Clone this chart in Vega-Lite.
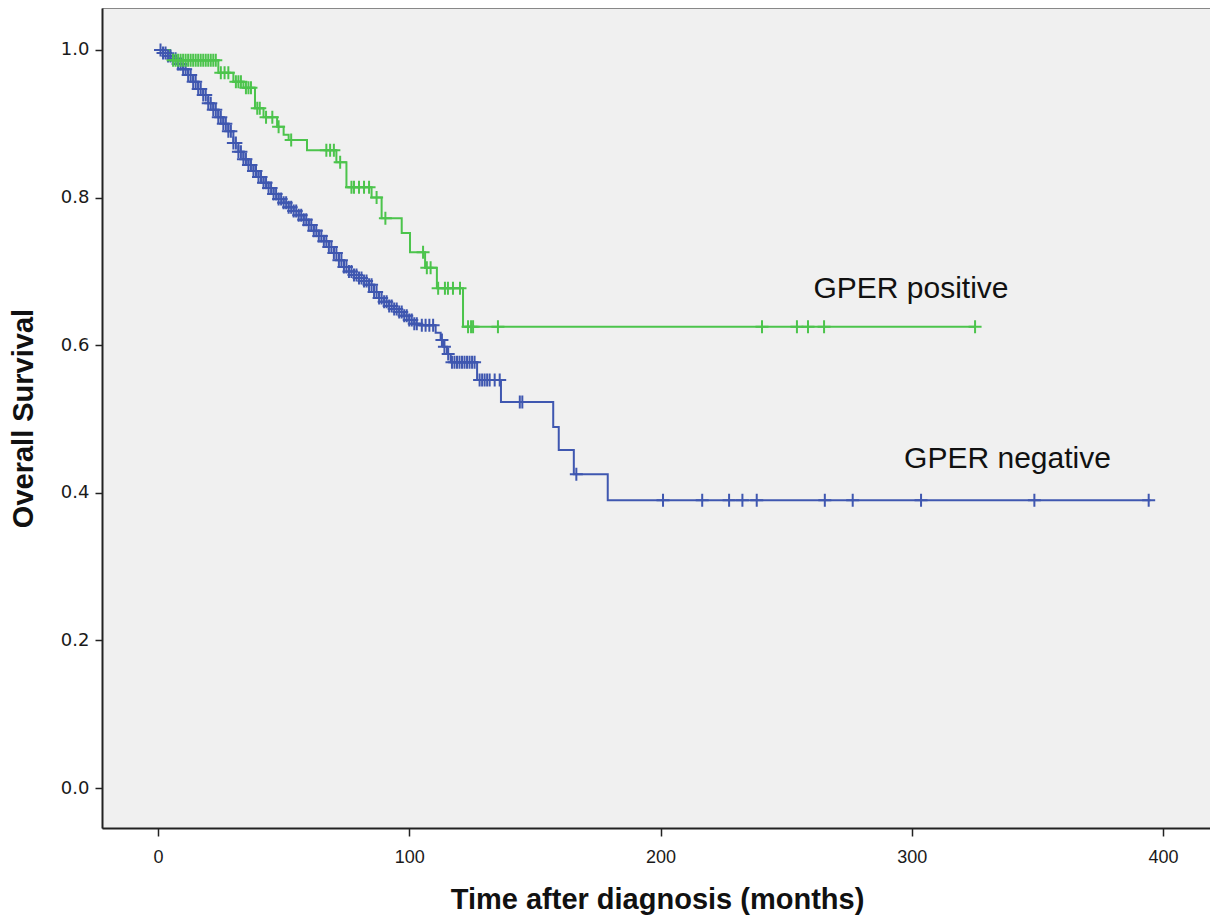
{
  "$schema": "https://vega.github.io/schema/vega-lite/v6.json",
  "width": 1110,
  "height": 820,
  "autosize": {"type": "none"},
  "padding": {"left": 102, "top": 8, "right": 0, "bottom": 91},
  "background": "white",
  "config": {"view": {"fill": "#f0f0f0", "stroke": "#888888", "strokeWidth": 1}},
  "datasets": {
    "steps": [
      {"g":"negative","t":0,"s":1.000},{"g":"negative","t":2,"s":0.996},{"g":"negative","t":4,"s":0.992},{"g":"negative","t":6,"s":0.988},
      {"g":"negative","t":8,"s":0.981},{"g":"negative","t":10,"s":0.974},{"g":"negative","t":12,"s":0.966},{"g":"negative","t":14,"s":0.957},
      {"g":"negative","t":16,"s":0.947},{"g":"negative","t":18,"s":0.939},{"g":"negative","t":20,"s":0.928},{"g":"negative","t":22,"s":0.919},
      {"g":"negative","t":24,"s":0.909},{"g":"negative","t":26,"s":0.900},{"g":"negative","t":28,"s":0.890},{"g":"negative","t":30,"s":0.874},
      {"g":"negative","t":32,"s":0.862},{"g":"negative","t":34,"s":0.852},{"g":"negative","t":36,"s":0.844},{"g":"negative","t":38,"s":0.836},
      {"g":"negative","t":40,"s":0.828},{"g":"negative","t":42,"s":0.820},{"g":"negative","t":44,"s":0.813},{"g":"negative","t":46,"s":0.805},
      {"g":"negative","t":48,"s":0.798},{"g":"negative","t":50,"s":0.793},{"g":"negative","t":52,"s":0.787},{"g":"negative","t":54,"s":0.782},
      {"g":"negative","t":56,"s":0.776},{"g":"negative","t":58,"s":0.770},{"g":"negative","t":60,"s":0.763},{"g":"negative","t":62,"s":0.755},
      {"g":"negative","t":64,"s":0.748},{"g":"negative","t":66,"s":0.741},{"g":"negative","t":68,"s":0.733},{"g":"negative","t":70,"s":0.725},
      {"g":"negative","t":72,"s":0.715},{"g":"negative","t":74,"s":0.706},{"g":"negative","t":76,"s":0.700},{"g":"negative","t":78,"s":0.695},
      {"g":"negative","t":80,"s":0.691},{"g":"negative","t":82,"s":0.687},{"g":"negative","t":84,"s":0.682},{"g":"negative","t":86,"s":0.672},
      {"g":"negative","t":88,"s":0.664},{"g":"negative","t":90,"s":0.659},{"g":"negative","t":92,"s":0.653},{"g":"negative","t":94,"s":0.649},
      {"g":"negative","t":96,"s":0.645},{"g":"negative","t":98,"s":0.640},{"g":"negative","t":100,"s":0.634},{"g":"negative","t":102,"s":0.629},
      {"g":"negative","t":104,"s":0.627},{"g":"negative","t":110.5,"s":0.617},{"g":"negative","t":112.5,"s":0.607},{"g":"negative","t":113.5,"s":0.598},
      {"g":"negative","t":115,"s":0.588},{"g":"negative","t":116.5,"s":0.577},{"g":"negative","t":127,"s":0.553},{"g":"negative","t":136.5,"s":0.523},
      {"g":"negative","t":157.3,"s":0.489},{"g":"negative","t":159.5,"s":0.458},{"g":"negative","t":165.5,"s":0.425},{"g":"negative","t":179,"s":0.390},
      {"g":"negative","t":395,"s":0.390},
      {"g":"positive","t":0,"s":1.000},{"g":"positive","t":4.8,"s":0.986},{"g":"positive","t":24,"s":0.969},{"g":"positive","t":30,"s":0.957},
      {"g":"positive","t":34,"s":0.949},{"g":"positive","t":38.6,"s":0.921},{"g":"positive","t":42,"s":0.909},{"g":"positive","t":47.4,"s":0.896},
      {"g":"positive","t":50,"s":0.885},{"g":"positive","t":52,"s":0.878},{"g":"positive","t":59.3,"s":0.864},{"g":"positive","t":71,"s":0.848},
      {"g":"positive","t":75,"s":0.814},{"g":"positive","t":85,"s":0.800},{"g":"positive","t":89,"s":0.772},{"g":"positive","t":97,"s":0.752},
      {"g":"positive","t":100.3,"s":0.726},{"g":"positive","t":106.3,"s":0.705},{"g":"positive","t":111,"s":0.677},{"g":"positive","t":121.4,"s":0.625},
      {"g":"positive","t":325.2,"s":0.625}
    ],
    "censor": [
      {"g":"negative","t":1,"s":1.000},{"g":"negative","t":2,"s":0.996},{"g":"negative","t":3,"s":0.996},{"g":"negative","t":4,"s":0.992},{"g":"negative","t":5,"s":0.992},
      {"g":"negative","t":6,"s":0.988},{"g":"negative","t":7,"s":0.988},{"g":"negative","t":8,"s":0.981},{"g":"negative","t":9,"s":0.981},
      {"g":"negative","t":10,"s":0.974},{"g":"negative","t":11,"s":0.974},{"g":"negative","t":12,"s":0.966},{"g":"negative","t":13,"s":0.966},
      {"g":"negative","t":14,"s":0.957},{"g":"negative","t":15,"s":0.957},{"g":"negative","t":16,"s":0.947},{"g":"negative","t":17,"s":0.947},
      {"g":"negative","t":18,"s":0.939},{"g":"negative","t":19,"s":0.939},{"g":"negative","t":20,"s":0.928},{"g":"negative","t":21,"s":0.928},
      {"g":"negative","t":22,"s":0.919},{"g":"negative","t":23,"s":0.919},{"g":"negative","t":24,"s":0.909},{"g":"negative","t":25,"s":0.909},
      {"g":"negative","t":26,"s":0.900},{"g":"negative","t":27,"s":0.900},{"g":"negative","t":28,"s":0.890},{"g":"negative","t":29,"s":0.890},
      {"g":"negative","t":30,"s":0.874},{"g":"negative","t":31,"s":0.874},{"g":"negative","t":32,"s":0.862},{"g":"negative","t":33,"s":0.862},
      {"g":"negative","t":34,"s":0.852},{"g":"negative","t":35,"s":0.852},{"g":"negative","t":36,"s":0.844},{"g":"negative","t":37,"s":0.844},
      {"g":"negative","t":38,"s":0.836},{"g":"negative","t":39,"s":0.836},{"g":"negative","t":40,"s":0.828},{"g":"negative","t":41,"s":0.828},
      {"g":"negative","t":42,"s":0.820},{"g":"negative","t":43,"s":0.820},{"g":"negative","t":44,"s":0.813},{"g":"negative","t":45,"s":0.813},
      {"g":"negative","t":46,"s":0.805},{"g":"negative","t":47,"s":0.805},{"g":"negative","t":48,"s":0.798},{"g":"negative","t":49,"s":0.798},
      {"g":"negative","t":50,"s":0.793},{"g":"negative","t":51,"s":0.793},{"g":"negative","t":52,"s":0.787},{"g":"negative","t":53,"s":0.787},
      {"g":"negative","t":54,"s":0.782},{"g":"negative","t":55,"s":0.782},{"g":"negative","t":56,"s":0.776},{"g":"negative","t":57,"s":0.776},
      {"g":"negative","t":58,"s":0.770},{"g":"negative","t":59,"s":0.770},{"g":"negative","t":60,"s":0.763},{"g":"negative","t":61,"s":0.763},
      {"g":"negative","t":62,"s":0.755},{"g":"negative","t":63,"s":0.755},{"g":"negative","t":64,"s":0.748},{"g":"negative","t":65,"s":0.748},
      {"g":"negative","t":66,"s":0.741},{"g":"negative","t":67,"s":0.741},{"g":"negative","t":68,"s":0.733},{"g":"negative","t":69,"s":0.733},
      {"g":"negative","t":70,"s":0.725},{"g":"negative","t":71,"s":0.725},{"g":"negative","t":72,"s":0.715},{"g":"negative","t":73,"s":0.715},
      {"g":"negative","t":74,"s":0.706},{"g":"negative","t":75,"s":0.706},{"g":"negative","t":76,"s":0.700},{"g":"negative","t":77,"s":0.700},
      {"g":"negative","t":78,"s":0.695},{"g":"negative","t":79,"s":0.695},{"g":"negative","t":80,"s":0.691},{"g":"negative","t":81,"s":0.691},
      {"g":"negative","t":82,"s":0.687},{"g":"negative","t":83,"s":0.687},{"g":"negative","t":84,"s":0.682},{"g":"negative","t":85,"s":0.682},
      {"g":"negative","t":86,"s":0.672},{"g":"negative","t":87,"s":0.672},{"g":"negative","t":88,"s":0.664},{"g":"negative","t":89,"s":0.664},
      {"g":"negative","t":90,"s":0.659},{"g":"negative","t":91,"s":0.659},{"g":"negative","t":92,"s":0.653},{"g":"negative","t":93,"s":0.653},
      {"g":"negative","t":94,"s":0.649},{"g":"negative","t":95,"s":0.649},{"g":"negative","t":96,"s":0.645},{"g":"negative","t":97,"s":0.645},
      {"g":"negative","t":98,"s":0.640},{"g":"negative","t":99,"s":0.640},{"g":"negative","t":100,"s":0.634},{"g":"negative","t":101,"s":0.634},
      {"g":"negative","t":102,"s":0.629},{"g":"negative","t":103,"s":0.629},
      {"g":"negative","t":105,"s":0.627},{"g":"negative","t":106.5,"s":0.627},{"g":"negative","t":108,"s":0.627},{"g":"negative","t":109.5,"s":0.627},
      {"g":"negative","t":113,"s":0.607},{"g":"negative","t":114,"s":0.598},{"g":"negative","t":115.5,"s":0.588},
      {"g":"negative","t":117,"s":0.577},{"g":"negative","t":118,"s":0.577},{"g":"negative","t":119,"s":0.577},{"g":"negative","t":120,"s":0.577},{"g":"negative","t":121,"s":0.577},
      {"g":"negative","t":122,"s":0.577},{"g":"negative","t":123,"s":0.577},{"g":"negative","t":124,"s":0.577},{"g":"negative","t":125,"s":0.577},{"g":"negative","t":126,"s":0.577},
      {"g":"negative","t":128,"s":0.553},{"g":"negative","t":129,"s":0.553},{"g":"negative","t":130,"s":0.553},{"g":"negative","t":131,"s":0.553},
      {"g":"negative","t":132,"s":0.553},{"g":"negative","t":134,"s":0.553},{"g":"negative","t":136,"s":0.553},
      {"g":"negative","t":144,"s":0.523},{"g":"negative","t":145,"s":0.523},{"g":"negative","t":166.5,"s":0.425},
      {"g":"negative","t":201,"s":0.390},{"g":"negative","t":216.6,"s":0.390},{"g":"negative","t":227.3,"s":0.390},{"g":"negative","t":232.6,"s":0.390},
      {"g":"negative","t":238.3,"s":0.390},{"g":"negative","t":265.4,"s":0.390},{"g":"negative","t":276.5,"s":0.390},{"g":"negative","t":303.7,"s":0.390},
      {"g":"negative","t":348.8,"s":0.390},{"g":"negative","t":394.3,"s":0.390},
      {"g":"positive","t":6,"s":0.986},{"g":"positive","t":7,"s":0.986},{"g":"positive","t":8,"s":0.986},{"g":"positive","t":9,"s":0.986},{"g":"positive","t":10,"s":0.986},
      {"g":"positive","t":11,"s":0.986},{"g":"positive","t":12,"s":0.986},{"g":"positive","t":13,"s":0.986},{"g":"positive","t":14,"s":0.986},{"g":"positive","t":15,"s":0.986},
      {"g":"positive","t":16,"s":0.986},{"g":"positive","t":17,"s":0.986},{"g":"positive","t":18,"s":0.986},{"g":"positive","t":19,"s":0.986},{"g":"positive","t":20,"s":0.986},
      {"g":"positive","t":21,"s":0.986},{"g":"positive","t":22,"s":0.986},{"g":"positive","t":23,"s":0.986},
      {"g":"positive","t":25,"s":0.969},{"g":"positive","t":26.5,"s":0.969},{"g":"positive","t":28,"s":0.969},
      {"g":"positive","t":31,"s":0.957},{"g":"positive","t":32,"s":0.957},{"g":"positive","t":33,"s":0.957},
      {"g":"positive","t":35,"s":0.949},{"g":"positive","t":36,"s":0.949},{"g":"positive","t":37,"s":0.949},
      {"g":"positive","t":39.5,"s":0.921},{"g":"positive","t":40.5,"s":0.921},{"g":"positive","t":43,"s":0.909},{"g":"positive","t":45.5,"s":0.909},
      {"g":"positive","t":48,"s":0.896},{"g":"positive","t":53,"s":0.878},
      {"g":"positive","t":67,"s":0.864},{"g":"positive","t":68.5,"s":0.864},{"g":"positive","t":70,"s":0.864},{"g":"positive","t":72.5,"s":0.848},
      {"g":"positive","t":77,"s":0.814},{"g":"positive","t":78,"s":0.814},{"g":"positive","t":80,"s":0.814},{"g":"positive","t":82,"s":0.814},{"g":"positive","t":84,"s":0.814},
      {"g":"positive","t":87,"s":0.800},{"g":"positive","t":90.5,"s":0.772},{"g":"positive","t":105.5,"s":0.726},
      {"g":"positive","t":107,"s":0.705},{"g":"positive","t":108.5,"s":0.705},
      {"g":"positive","t":111.5,"s":0.677},{"g":"positive","t":114.2,"s":0.677},{"g":"positive","t":115.4,"s":0.677},{"g":"positive","t":117.4,"s":0.677},{"g":"positive","t":120.2,"s":0.677},
      {"g":"positive","t":123.4,"s":0.625},{"g":"positive","t":124.6,"s":0.625},{"g":"positive","t":125.4,"s":0.625},{"g":"positive","t":135.3,"s":0.625},
      {"g":"positive","t":240.4,"s":0.625},{"g":"positive","t":254.3,"s":0.625},{"g":"positive","t":258.7,"s":0.625},{"g":"positive","t":265.1,"s":0.625},
      {"g":"positive","t":325.2,"s":0.625}
    ],
    "labels": [
      {"label":"GPER positive","t":299.7,"s":0.664},
      {"label":"GPER negative","t":338.1,"s":0.4336}
    ]
  },
  "layer": [
    {
      "data": {"name": "steps"},
      "mark": {"type": "line", "interpolate": "step-after", "strokeWidth": 2},
      "encoding": {
        "x": {
          "field": "t", "type": "quantitative",
          "scale": {"domain": [-22.29, 419.5], "nice": false, "zero": false},
          "axis": {
            "values": [0, 100, 200, 300, 400], "format": "d", "grid": false,
            "title": "Time after diagnosis (months)",
            "titleFont": "Liberation Sans", "titleFontWeight": "bold", "titleFontSize": 29, "titleColor": "#111", "titlePadding": 19,
            "labelFont": "Liberation Sans", "labelFontSize": 18, "labelColor": "#1a1a1a", "labelPadding": 12,
            "tickSize": 8, "tickWidth": 1.5, "tickColor": "#222",
            "domainColor": "#222", "domainWidth": 2
          }
        },
        "y": {
          "field": "s", "type": "quantitative",
          "scale": {"domain": [-0.0542, 1.0569], "nice": false, "zero": false},
          "axis": {
            "values": [0, 0.2, 0.4, 0.6, 0.8, 1.0], "format": ".1f", "grid": false,
            "title": "Overall Survival",
            "titleFont": "Liberation Sans", "titleFontWeight": "bold", "titleFontSize": 29, "titleColor": "#111", "titlePadding": 22,
            "labelFont": "DejaVu Sans", "labelFontSize": 18, "labelColor": "#1a1a1a", "labelPadding": 6,
            "tickSize": 7, "tickWidth": 1.5, "tickColor": "#222",
            "domainColor": "#222", "domainWidth": 2
          }
        },
        "color": {
          "field": "g", "type": "nominal",
          "scale": {"domain": ["negative", "positive"], "range": ["#3f57b0", "#4cc44c"]},
          "legend": null
        }
      }
    },
    {
      "data": {"name": "censor"},
      "mark": {"type": "point", "shape": "M-1,0H1M0,-1V1", "filled": false, "size": 169, "strokeWidth": 2, "opacity": 1},
      "encoding": {
        "x": {"field": "t", "type": "quantitative"},
        "y": {"field": "s", "type": "quantitative"},
        "color": {"field": "g", "type": "nominal", "legend": null}
      }
    },
    {
      "data": {"name": "labels"},
      "mark": {"type": "text", "font": "Liberation Sans", "fontSize": 30, "color": "#111", "align": "center", "baseline": "alphabetic"},
      "encoding": {
        "x": {"field": "t", "type": "quantitative"},
        "y": {"field": "s", "type": "quantitative"},
        "text": {"field": "label"}
      }
    }
  ]
}
